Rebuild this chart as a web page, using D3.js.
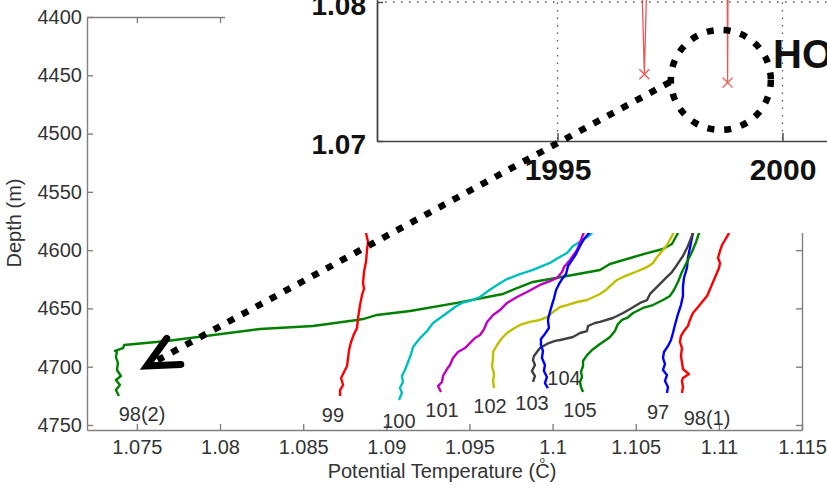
<!DOCTYPE html>
<html>
<head>
<meta charset="utf-8">
<script src="https://cdn.jsdelivr.net/npm/d3@7"></script>
<style>
body{margin:0;background:#fff;}
svg{display:block;font-family:"Liberation Sans",Arial,sans-serif;}
</style>
</head>
<body>
<script>
var width = 827;
var height = 488;

//////// profiles: [potential temperature, depth] ////////
var prof97 = [[1.10857,4579.3],[1.10844,4584.4],[1.10838,4589.6],[1.10826,4598.2],[1.10814,4606.7],[1.10808,4615.3],[1.10790,4623.9],[1.10784,4631.6],[1.10784,4639.3],[1.10772,4647.1],[1.10754,4654.8],[1.10736,4664.2],[1.10724,4671.1],[1.10712,4677.1],[1.10694,4682.2],[1.10670,4687.4],[1.10664,4692.5],[1.10676,4697.7],[1.10664,4702.8],[1.10688,4707.1],[1.10676,4712.3],[1.10694,4717.4],[1.10688,4722.6]];
var prof98a = [[1.11073,4581.0],[1.11055,4587.0],[1.11037,4591.3],[1.11019,4595.6],[1.11007,4600.7],[1.10995,4606.7],[1.11007,4611.0],[1.11001,4615.3],[1.10983,4621.3],[1.10965,4627.3],[1.10947,4633.3],[1.10929,4639.3],[1.10899,4644.5],[1.10875,4648.8],[1.10844,4653.9],[1.10826,4659.9],[1.10814,4665.1],[1.10790,4669.4],[1.10772,4673.7],[1.10766,4678.8],[1.10778,4684.0],[1.10772,4690.8],[1.10778,4696.0],[1.10784,4702.0],[1.10820,4706.3],[1.10784,4709.7],[1.10778,4712.3],[1.10784,4717.4],[1.10778,4722.6]];
var prof98b = [[1.10790,4576.0],[1.10754,4585.3],[1.10718,4594.7],[1.10664,4599.0],[1.10568,4602.5],[1.10345,4611.9],[1.10285,4617.0],[1.10087,4622.2],[1.09882,4627.3],[1.09786,4632.5],[1.09702,4637.6],[1.09425,4645.3],[1.09143,4652.2],[1.08944,4655.6],[1.08860,4659.1],[1.08824,4659.9],[1.08559,4665.1],[1.08240,4667.6],[1.07681,4677.9],[1.07423,4681.4],[1.07417,4684.0],[1.07368,4686.5],[1.07380,4687.4],[1.07374,4691.7],[1.07386,4696.8],[1.07380,4702.8],[1.07404,4708.0],[1.07374,4711.4],[1.07398,4715.7],[1.07374,4720.0],[1.07392,4725.1]];
var prof99 = [[1.08884,4575.9],[1.08878,4585.3],[1.08890,4593.0],[1.08884,4599.9],[1.08878,4610.2],[1.08872,4614.0],[1.08866,4618.8],[1.08860,4628.2],[1.08866,4633.0],[1.08854,4638.5],[1.08842,4647.1],[1.08830,4658.2],[1.08824,4666.8],[1.08806,4671.9],[1.08788,4678.8],[1.08776,4685.7],[1.08770,4692.5],[1.08764,4699.4],[1.08746,4704.5],[1.08728,4709.7],[1.08740,4715.7],[1.08722,4720.0],[1.08722,4725.1]];
var prof100 = [[1.10261,4581.0],[1.10225,4587.0],[1.10183,4591.3],[1.10123,4596.4],[1.10087,4602.5],[1.10033,4606.7],[1.09984,4611.0],[1.09882,4617.0],[1.09804,4620.5],[1.09726,4624.8],[1.09666,4629.9],[1.09612,4635.1],[1.09564,4640.2],[1.09503,4643.6],[1.09455,4645.3],[1.09413,4648.8],[1.09365,4653.9],[1.09323,4658.2],[1.09281,4662.5],[1.09245,4669.4],[1.09203,4675.4],[1.09161,4683.1],[1.09149,4689.1],[1.09131,4696.0],[1.09112,4702.8],[1.09094,4708.0],[1.09100,4713.1],[1.09082,4718.3],[1.09094,4722.6],[1.09076,4728.6]];
var prof101 = [[1.10207,4578.4],[1.10189,4584.4],[1.10171,4591.3],[1.10147,4599.9],[1.10105,4608.5],[1.10069,4614.5],[1.10057,4618.8],[1.10027,4623.9],[1.09984,4626.5],[1.09924,4629.9],[1.09846,4635.9],[1.09786,4640.2],[1.09726,4645.3],[1.09684,4651.4],[1.09642,4655.6],[1.09606,4661.6],[1.09588,4667.7],[1.09564,4672.8],[1.09533,4675.4],[1.09503,4679.7],[1.09473,4684.0],[1.09431,4687.4],[1.09401,4692.5],[1.09383,4698.5],[1.09365,4702.0],[1.09341,4708.0],[1.09335,4713.1],[1.09311,4716.6],[1.09329,4721.7]];
var prof102 = [[1.10742,4581.0],[1.10718,4587.9],[1.10688,4595.6],[1.10664,4599.9],[1.10628,4605.9],[1.10604,4611.0],[1.10568,4614.5],[1.10484,4619.6],[1.10436,4622.2],[1.10387,4625.6],[1.10345,4630.8],[1.10321,4634.2],[1.10285,4637.6],[1.10207,4642.8],[1.10147,4644.5],[1.10087,4647.1],[1.10045,4648.8],[1.10003,4653.1],[1.09966,4657.4],[1.09924,4659.9],[1.09864,4661.6],[1.09804,4664.2],[1.09762,4667.7],[1.09726,4671.1],[1.09696,4675.4],[1.09666,4681.4],[1.09642,4687.4],[1.09642,4692.5],[1.09636,4699.4],[1.09648,4706.3],[1.09642,4712.3],[1.09648,4718.3]];
var prof103 = [[1.10857,4581.0],[1.10838,4587.9],[1.10814,4596.4],[1.10784,4605.0],[1.10748,4612.7],[1.10718,4618.8],[1.10688,4623.0],[1.10658,4627.3],[1.10628,4631.6],[1.10586,4637.6],[1.10568,4642.8],[1.10526,4645.3],[1.10466,4650.5],[1.10424,4653.9],[1.10363,4658.2],[1.10285,4661.6],[1.10255,4662.5],[1.10213,4665.1],[1.10207,4669.4],[1.10165,4671.1],[1.10123,4674.5],[1.10045,4677.1],[1.10015,4677.9],[1.09966,4680.5],[1.09924,4684.0],[1.09906,4687.4],[1.09888,4690.8],[1.09882,4694.2],[1.09894,4698.5],[1.09876,4703.7],[1.09894,4708.0],[1.09882,4713.1]];
var prof104 = [[1.10243,4579.3],[1.10219,4585.3],[1.10189,4590.4],[1.10165,4596.4],[1.10141,4603.3],[1.10117,4608.5],[1.10093,4613.6],[1.10081,4620.5],[1.10057,4624.8],[1.10039,4629.0],[1.10021,4634.2],[1.10009,4641.1],[1.09996,4647.1],[1.09984,4653.1],[1.09972,4659.9],[1.09978,4666.8],[1.09954,4671.9],[1.09930,4676.2],[1.09930,4681.4],[1.09942,4686.5],[1.09936,4692.5],[1.09954,4698.5],[1.09948,4703.7],[1.09966,4708.8],[1.09954,4714.0],[1.09972,4718.3]];
var prof105 = [[1.10899,4579.3],[1.10881,4585.3],[1.10863,4593.0],[1.10838,4601.6],[1.10808,4610.2],[1.10778,4618.8],[1.10754,4627.3],[1.10730,4634.2],[1.10706,4639.3],[1.10664,4642.8],[1.10604,4647.1],[1.10544,4649.6],[1.10484,4653.9],[1.10448,4658.2],[1.10418,4659.9],[1.10393,4663.4],[1.10375,4669.4],[1.10345,4674.5],[1.10321,4677.1],[1.10285,4680.5],[1.10237,4685.7],[1.10207,4690.0],[1.10183,4695.1],[1.10183,4699.4],[1.10171,4704.5],[1.10177,4708.8],[1.10165,4713.1],[1.10171,4717.4],[1.10183,4721.7]];

var names = ["97", "98(1)", "98(2)", "99", "100", "101", "102", "103", "104", "105"];
var profiles = [prof97, prof98a, prof98b, prof99, prof100, prof101, prof102, prof103, prof104, prof105];
// where each name sits (temperature, depth)
var labelTemp = [1.10634, 1.10929, 1.07531, 1.08679, 1.09076, 1.09335, 1.09624, 1.09876, 1.10069, 1.10165];
var labelDepth = [4744.9, 4750.0, 4746.6, 4747.4, 4752.6, 4743.1, 4739.7, 4737.1, 4715.7, 4743.1];

var xTicks = [1.075, 1.08, 1.085, 1.09, 1.095, 1.1, 1.105, 1.11, 1.115];
var yTicks = [4400, 4450, 4500, 4550, 4600, 4650, 4700, 4750];

//////// inset: bottom temperature vs year ////////
var hotYear = [1996.68, 1996.93, 1997.18, 1998.74, 1998.78, 1998.82];
var hotTheta = [1.105, 1.0748, 1.105, 1.105, 1.0742, 1.105];
var insetYTicks = [1.07, 1.08];
var insetXTicks = [1995, 2000];
var circleAt = [1998.63, 1.07439];
var arrowFrom = [1997.50, 1.07424]; // inset coords
var arrowTo = [1.0756, 4699.4];     // main coords

var colors = ["#0000ff", "#ff0000", "#008000", "#ff0000", "#00bfbf", "#bf00bf", "#bfbf00", "#404040", "#0000ff", "#008000"];

var svg = d3.select("body").append("svg")
  .attr("width", width)
  .attr("height", height);

var x = d3.scaleLinear().domain([1.072, 1.115]).range([87, 802]);
var y = d3.scaleLinear().domain([4400, 4754.3]).range([17, 430]);

function styleAxis(g, col) {
  g.attr("font-size", 20).attr("font-family", null);
  g.select(".domain").attr("stroke", col).attr("stroke-width", 1.4);
  g.selectAll(".tick line").attr("stroke", col).attr("stroke-width", 1.4);
  g.selectAll(".tick text").attr("fill", "#333");
}

////// main axes //////
svg.append("g")
  .attr("transform", "translate(87,0)")
  .call(d3.axisLeft(y).tickValues(yTicks).tickSizeInner(-6).tickSizeOuter(0).tickPadding(5).tickFormat(d3.format("d")))
  .call(g => styleAxis(g, "#808080"));

svg.append("g")
  .attr("transform", "translate(802,0)")
  .call(d3.axisRight(y).tickValues(yTicks).tickSizeInner(-6).tickSizeOuter(0).tickFormat(""))
  .call(g => styleAxis(g, "#808080"));

svg.append("g")
  .attr("transform", "translate(0,17)")
  .call(d3.axisTop(x).tickValues(xTicks).tickSizeInner(-6).tickSizeOuter(0).tickFormat(""))
  .call(g => styleAxis(g, "#808080"));

svg.append("g")
  .attr("transform", "translate(0,430)")
  .call(d3.axisBottom(x).tickValues(xTicks).tickSizeInner(-6).tickSizeOuter(0).tickPadding(10).tickFormat(d => +d.toFixed(3)))
  .call(g => styleAxis(g, "#808080"));

// axis titles
svg.append("text")
  .attr("transform", "translate(21,223) rotate(-90)")
  .attr("text-anchor", "middle")
  .attr("font-size", 20)
  .attr("fill", "#333")
  .text("Depth (m)");

var xl = svg.append("text")
  .attr("x", 442)
  .attr("y", 478)
  .attr("text-anchor", "middle")
  .attr("font-size", 20)
  .attr("fill", "#333");
xl.append("tspan").text("Potential Temperature (");
xl.append("tspan").attr("font-size", 9).attr("dx", 4.5).attr("dy", -15).text("o");
xl.append("tspan").attr("dx", -9.5).attr("dy", 15).text("C");
xl.append("tspan").text(")");

////// profiles //////
var line = d3.line().x(d => x(d[0])).y(d => y(d[1]));

svg.append("g")
  .selectAll("path")
  .data(profiles)
  .join("path")
    .attr("fill", "none")
    .attr("stroke", (d, i) => colors[i])
    .attr("stroke-width", 2.4)
    .attr("stroke-linejoin", "round")
    .attr("d", line);

svg.append("g")
  .attr("font-size", 20)
  .attr("fill", "#333")
  .attr("text-anchor", "middle")
  .selectAll("text")
  .data(names)
  .join("text")
    .attr("x", (d, i) => x(labelTemp[i]))
    .attr("y", (d, i) => y(labelDepth[i]))
    .text(d => d);

////// inset //////
var xi = d3.scaleLinear().domain([1991, 2010]).range([377.5, 377.5 + 19 * 45]);
var yi = d3.scaleLinear().domain([1.07, 1.08]).range([141, 2]);

svg.append("rect")
  .attr("x", 225).attr("y", 0)
  .attr("width", width - 225).attr("height", 233)
  .attr("fill", "#fff");

svg.append("clipPath").attr("id", "clipInset")
  .append("rect").attr("x", 377).attr("y", -400).attr("width", 600).attr("height", 541);

var inset = svg.append("g");

// dotted grid
inset.append("g")
  .selectAll("line")
  .data(insetXTicks)
  .join("line")
    .attr("x1", d => xi(d)).attr("x2", d => xi(d))
    .attr("y1", -5).attr("y2", 141)
    .attr("stroke", "#555").attr("stroke-width", 1.3).attr("stroke-dasharray", "1.5,6");

inset.append("line")
  .attr("x1", 377).attr("x2", 840)
  .attr("y1", yi(1.08)).attr("y2", yi(1.08))
  .attr("stroke", "#555").attr("stroke-width", 1.3).attr("stroke-dasharray", "1.5,6.5");

var hot = hotYear.map((d, i) => [d, hotTheta[i]]);
var hotG = inset.append("g").attr("clip-path", "url(#clipInset)");

hotG.append("path")
  .datum(hot)
  .attr("fill", "none")
  .attr("stroke", "#e83a36")
  .attr("stroke-opacity", 0.85)
  .attr("stroke-width", 1.3)
  .attr("d", d3.line().x(d => xi(d[0])).y(d => yi(d[1])));

hotG.selectAll(".mk")
  .data(hot)
  .join("path")
    .attr("class", "mk")
    .attr("transform", d => `translate(${xi(d[0])},${yi(d[1])})`)
    .attr("d", "M-5,-5L5,5M-5,5L5,-5")
    .attr("stroke", "#f05a55")
    .attr("stroke-width", 1.4);

inset.append("g")
  .attr("transform", "translate(377,0)")
  .call(d3.axisLeft(yi).tickValues(insetYTicks).tickSizeInner(-6).tickSizeOuter(0).tickPadding(11).tickFormat(d3.format(".2f")))
  .call(g => styleAxis(g, "#444"))
  .call(g => g.selectAll(".tick text").attr("font-size", 28).attr("font-weight", "bold").attr("fill", "#111").attr("dy", "0.45em"));

inset.append("line")
  .attr("x1", 377.5).attr("x2", 377.5).attr("y1", -2).attr("y2", 141)
  .attr("stroke", "#444").attr("stroke-width", 1.5);

inset.append("g")
  .attr("transform", "translate(0,141)")
  .call(d3.axisBottom(xi).tickValues(insetXTicks).tickSizeInner(-8).tickSizeOuter(0).tickPadding(18).tickFormat(d3.format("d")))
  .call(g => styleAxis(g, "#444"))
  .call(g => g.selectAll(".tick text").attr("font-size", 30).attr("font-weight", "bold").attr("fill", "#111"));

svg.append("text")
  .attr("x", 773)
  .attr("y", 68)
  .attr("font-size", 40)
  .attr("font-weight", "bold")
  .attr("fill", "#111")
  .text("HOT");

////// dotted circle and arrow //////
svg.append("circle")
  .attr("cx", xi(circleAt[0]))
  .attr("cy", yi(circleAt[1]))
  .attr("r", 50)
  .attr("fill", "none")
  .attr("stroke", "#000")
  .attr("stroke-width", 6.5)
  .attr("stroke-dasharray", "7,10");

var sx = xi(arrowFrom[0]), sy = yi(arrowFrom[1]);
var tx = x(arrowTo[0]), ty = y(arrowTo[1]);

svg.append("line")
  .attr("x1", sx).attr("y1", sy)
  .attr("x2", tx).attr("y2", ty)
  .attr("stroke", "#000")
  .attr("stroke-width", 6.5)
  .attr("stroke-dasharray", "7,9");

var back = Math.atan2(sy - ty, sx - tx);
var armLen = 34, spread = 0.45;
svg.append("path")
  .attr("d", `M${tx + armLen * Math.cos(back - spread)},${ty + armLen * Math.sin(back - spread)}L${tx},${ty}L${tx + armLen * Math.cos(back + spread)},${ty + armLen * Math.sin(back + spread)}`)
  .attr("fill", "none")
  .attr("stroke", "#000")
  .attr("stroke-width", 7)
  .attr("stroke-linecap", "round")
  .attr("stroke-linejoin", "miter");
</script>
</body>
</html>
